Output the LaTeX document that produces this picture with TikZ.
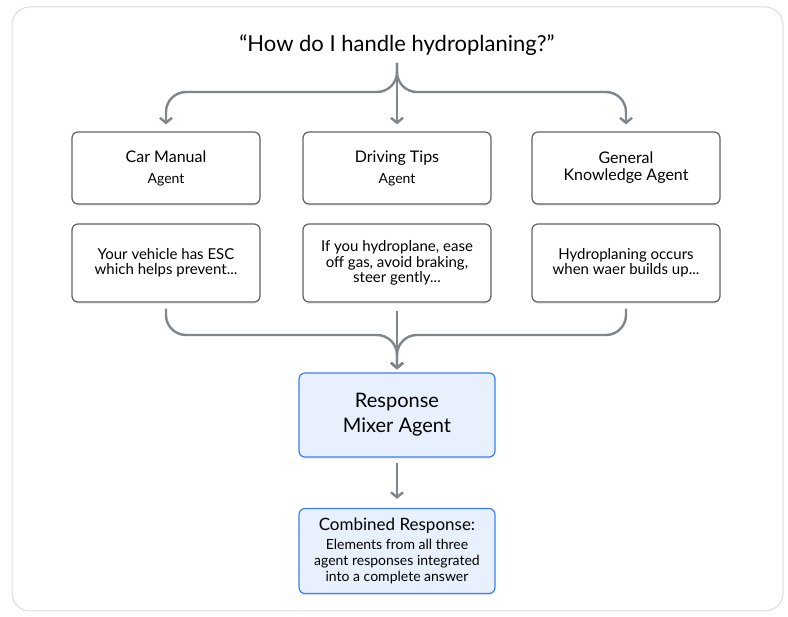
\documentclass[tikz,border=0pt]{standalone}
\usepackage{fontspec}
\setmainfont{Lato}
\usetikzlibrary{shadows}
\usetikzlibrary{arrows.meta}

\definecolor{framegray}{HTML}{DADCE0}
\definecolor{boxline}{HTML}{5F6368}
\definecolor{flowgray}{HTML}{80868B}
\definecolor{mixfill}{HTML}{E8F0FE}
\definecolor{mixline}{HTML}{3B82F0}

\tikzset{
	softshadow/.style={drop shadow={shadow xshift=0pt, shadow yshift=-2pt, opacity=0.08, fill=black}},
	agentbox/.style={draw=boxline, fill=white, line width=1.2pt, rounded corners=6pt,
		minimum width=188pt, minimum height=72pt, align=center, softshadow,
		font=\fontsize{16}{17}\selectfont},
	replybox/.style={agentbox, minimum height=78pt, font=\fontsize{15}{15.5}\selectfont},
	mixbox/.style={draw=mixline, fill=mixfill, line width=1.2pt, rounded corners=6pt,
		minimum width=196pt, minimum height=84pt, align=center, softshadow},
	flow/.style={draw=flowgray, line width=2.4pt, rounded corners=20pt,
		-{Straight Barb[length=5pt, width=12pt]}}
}

\begin{document}
\begin{tikzpicture}[x=1pt, y=-1pt]
	\useasboundingbox (0,0) rectangle (788,617);
	\draw[framegray, line width=1pt, fill=white, rounded corners=18pt] (12,7) rectangle (783,611);

	\node[font=\fontsize{22}{25}\selectfont] (q) at (397,45) {“How do I handle hydroplaning?”};

	% agents
	\node[agentbox] (cm) at (166,168) {Car Manual\\[4pt]{\fontsize{14}{14}\selectfont Agent}};
	\node[agentbox] (dt) at (397,168) {Driving Tips\\[4pt]{\fontsize{14}{14}\selectfont Agent}};
	\node[agentbox] (gk) at (626,168) {General\\Knowledge Agent};

	% their answers
	\node[replybox] (cmr) at (166,263) {Your vehicle has ESC\\which helps prevent...};
	\node[replybox] (dtr) at (397,263) {If you hydroplane, ease\\off gas, avoid braking,\\steer gently...};
	\node[replybox] (gkr) at (626,263) {Hydroplaning occurs\\when waer builds up...};

	\node[mixbox, font=\fontsize{20}{25}\selectfont] (mix) at (397,415) {Response\\Mixer Agent};
	\node[mixbox, minimum height=85pt, font=\fontsize{14}{16}\selectfont] (comb) at (397,551)
		{{\fontsize{17}{18}\selectfont Combined Response:}\\[3pt]Elements from all three\\agent responses integrated\\into a complete answer};

	% fan out
	\coordinate (split) at (397,92);
	\draw[flow, shorten <=4pt, shorten >=7pt] (q.south) -- (split) -| (cm.north);
	\draw[flow, shorten <=4pt, shorten >=7pt] (q.south) -- (split) -| (gk.north);
	\draw[flow, shorten <=4pt, shorten >=7pt] (q.south) -- (dt.north);

	% merge
	\coordinate (merge) at (397,335);
	\draw[flow, shorten <=6pt, shorten >=3pt] (cmr.south) |- (merge) -- (mix.north);
	\draw[flow, shorten <=6pt, shorten >=3pt] (gkr.south) |- (merge) -- (mix.north);
	\draw[flow, shorten <=8pt, shorten >=3pt] (dtr.south) -- (mix.north);

	\draw[flow, shorten <=5pt, shorten >=9pt] (mix.south) -- (comb.north);
\end{tikzpicture}
\end{document}
